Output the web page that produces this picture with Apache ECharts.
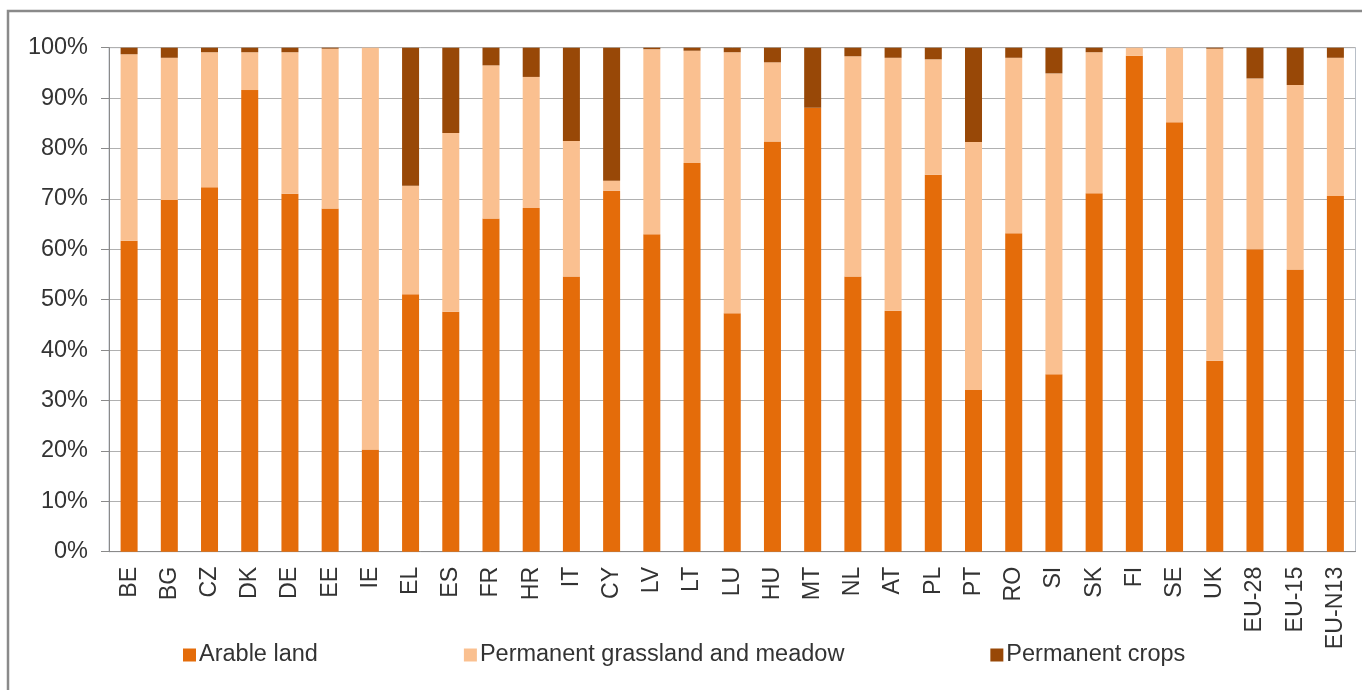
<!DOCTYPE html>
<html>
<head>
<meta charset="utf-8">
<script src="https://cdn.jsdelivr.net/npm/echarts@6/dist/echarts.min.js"></script>
<style>
html,body{margin:0;padding:0;background:#fff;}
#chart{width:1362px;height:690px;}
</style>
</head>
<body>
<div id="chart"></div>
<script>
const categories = ['BE','BG','CZ','DK','DE','EE','IE','EL','ES','FR','HR','IT','CY','LV','LT','LU','HU','MT','NL','AT','PL','PT','RO','SI','SK','FI','SE','UK','EU-28','EU-15','EU-N13'];
const arableLand = [61.7,69.8,72.3,91.6,71.0,68.1,20.3,51.1,47.6,66.1,68.2,54.6,71.6,63.0,77.1,47.3,81.4,88.1,54.6,47.8,74.8,32.1,63.2,35.2,71.1,98.4,85.2,37.9,60.0,56.0,70.6];
const grassland  = [37.0,28.2,26.8,7.5,28.1,31.7,79.7,21.5,35.5,30.4,26.0,26.9,2.0,36.7,22.3,51.8,15.7,0.0,43.7,50.2,22.9,49.2,34.8,59.7,28.0,1.6,14.8,61.9,33.9,36.6,27.4];
const permCrops  = [1.3,2.0,0.9,0.9,0.9,0.2,0.0,27.4,16.9,3.5,5.8,18.5,26.4,0.3,0.6,0.9,2.9,11.9,1.7,2.0,2.3,18.7,2.0,5.1,0.9,0.0,0.0,0.2,6.1,7.4,2.0];
const seriesNames = ['Arable land','Permanent grassland and meadow','Permanent crops'];
const yTicks = {min:0, max:100, interval:10};

const chart = echarts.init(document.getElementById('chart'));
const font = 'Liberation Sans, Arial, sans-serif';
const mk = (name, data, color) => ({
  name, type:'bar', stack:'total', data, barWidth:17,
  itemStyle:{color}, emphasis:{disabled:true}
});
chart.setOption({
  animation:false,
  textStyle:{fontFamily:font},
  graphic:[{type:'rect', shape:{x:8, y:11, width:1420, height:800},
    style:{fill:'none', stroke:'#8a8a8a', lineWidth:2.5}, silent:true}],
  grid:{left:109, right:6.5, top:47.7, bottom:138.3, show:true, borderColor:'#b8bfc8', borderWidth:1},
  legend:{
    data:seriesNames, left:183, top:643, padding:0, itemGap:146, icon:'rect',
    itemWidth:13, itemHeight:13, itemStyle:{borderWidth:0},
    textStyle:{fontSize:23.5, color:'#333', fontFamily:font, padding:[0,0,0,-2]}
  },
  xAxis:{
    type:'category', data:categories,
    axisLine:{lineStyle:{color:'#8a8a8a'}},
    axisTick:{show:false},
    axisLabel:{rotate:90, fontSize:23.2, color:'#333', margin:15, interval:0, fontFamily:font}
  },
  yAxis:{
    type:'value', min:yTicks.min, max:yTicks.max, interval:yTicks.interval,
    axisLine:{show:true, lineStyle:{color:'#8a8a8a'}},
    axisTick:{show:true, length:8, lineStyle:{color:'#8a8a8a'}},
    splitLine:{lineStyle:{color:'#b0b0b0'}},
    axisLabel:{formatter:'{value}%', fontSize:23.5, color:'#333', margin:21, fontFamily:font}
  },
  series:[
    mk(seriesNames[0], arableLand, '#E46C0A'),
    mk(seriesNames[1], grassland, '#FAC090'),
    mk(seriesNames[2], permCrops, '#984807')
  ]
});
</script>
</body>
</html>
